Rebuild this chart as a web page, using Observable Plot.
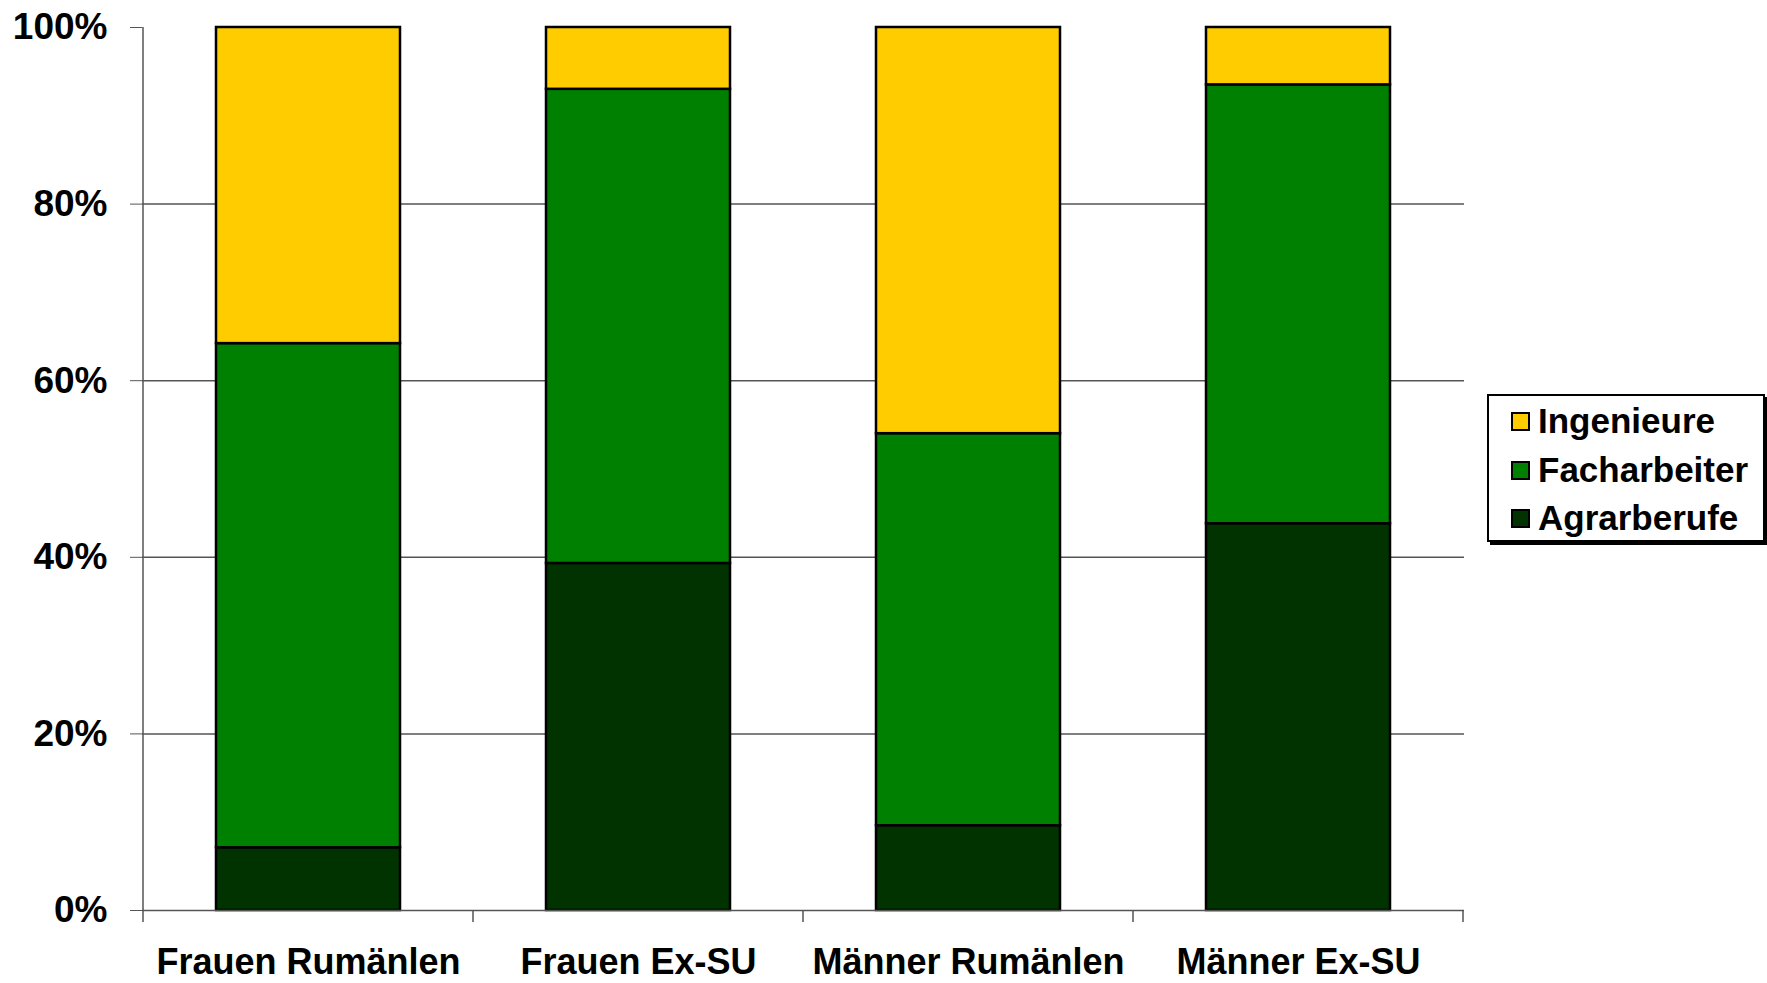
<!DOCTYPE html>
<html><head><meta charset="utf-8">
<script src="https://cdn.jsdelivr.net/npm/d3@7"></script>
<script src="https://cdn.jsdelivr.net/npm/@observablehq/plot@0.6"></script>
<style>
body{margin:0;background:#fff;font-family:"Liberation Sans",Arial,sans-serif;}
#wrap{position:relative;width:1767px;height:983px;overflow:hidden;}
.legend{position:absolute;left:1487px;top:394px;width:274px;height:144px;border:2px solid #000;box-shadow:3px 3px 0 #000;background:#fff;}
.item{position:absolute;left:22px;height:34px;font-weight:bold;font-size:35px;line-height:34px;display:flex;align-items:center;color:#000;white-space:nowrap;}
.sw{width:15px;height:15px;border:2px solid #000;margin-right:8px;}
</style></head><body><div id="wrap"></div>
<script>
const categories = ["Frauen Rumänlen", "Frauen Ex-SU", "Männer Rumänlen", "Männer Ex-SU"];
const series = ["Agrarberufe", "Facharbeiter", "Ingenieure"];
const agrarberufe = [7.1, 39.3, 9.6, 43.8];
const facharbeiter = [57.1, 53.7, 44.4, 49.7];
const ingenieure = [35.8, 7.0, 46.0, 6.5];
const seriesColors = ["#003300", "#008000", "#FFCC00"];
const yTicks = [0, 20, 40, 60, 80, 100];
const gridTicks = [20, 40, 60, 80];
const legendOrder = ["Ingenieure", "Facharbeiter", "Agrarberufe"];

const values = [agrarberufe, facharbeiter, ingenieure];
const data = [];
categories.forEach((c, i) => {
  series.forEach((s, j) => data.push({category: c, series: s, value: values[j][i]}));
});

const FONT = '"Liberation Sans", Arial, sans-serif';
const plot = Plot.plot({
  width: 1767, height: 983,
  marginLeft: 142, marginRight: 303, marginTop: 27, marginBottom: 73,
  style: {fontFamily: FONT, background: "#fff", color: "#000"},
  x: {domain: categories, paddingInner: 0.443, paddingOuter: 0.2215, label: null},
  y: {domain: [0, 100], label: null},
  color: {domain: series, range: seriesColors},
  marks: [
    Plot.gridY(gridTicks, {stroke: "#555", strokeOpacity: 1, strokeWidth: 1.5}),
    Plot.barY(data, {x: "category", y: "value", fill: "series", stroke: "#000", strokeWidth: 2.5}),
    Plot.ruleY([0], {stroke: "#555", strokeWidth: 1.5}),
    Plot.axisY(yTicks, {tickFormat: d => d + "%", tickSize: 12, tickPadding: 23, fontSize: 37, fontWeight: "bold", stroke: "#555", fill: "#000"}),
    Plot.axisX({tickSize: 0, tickPadding: 38, fontSize: 36, fontWeight: "bold", fill: "#000"})
  ]
});

// y-axis line and category-boundary ticks from the plot's own scales
const xs = plot.scale("x"), ys = plot.scale("y");
const svg = d3.select(plot);
const y0 = ys.apply(0), y100 = ys.apply(100);
const half = (xs.step - xs.bandwidth) / 2;
const x0 = xs.apply(categories[0]) - half;
svg.append("line").attr("x1", x0).attr("x2", x0).attr("y1", y100).attr("y2", y0)
  .attr("stroke", "#555").attr("stroke-width", 1.5);
const bounds = categories.map(c => xs.apply(c) - half).concat([xs.apply(categories[categories.length - 1]) + xs.bandwidth + half]);
bounds.forEach(b => svg.append("line").attr("x1", b).attr("x2", b).attr("y1", y0).attr("y2", y0 + 12)
  .attr("stroke", "#555").attr("stroke-width", 1.5));

const wrap = document.getElementById("wrap");
wrap.appendChild(plot);

const leg = document.createElement("div");
leg.className = "legend";
const colorOf = s => seriesColors[series.indexOf(s)];
const rowTops = [8, 57, 105];
legendOrder.forEach((s, i) => {
  const it = document.createElement("div");
  it.className = "item";
  it.style.top = rowTops[i] + "px";
  const sw = document.createElement("div");
  sw.className = "sw";
  sw.style.background = colorOf(s);
  it.appendChild(sw);
  it.appendChild(document.createTextNode(s));
  leg.appendChild(it);
});
wrap.appendChild(leg);
</script>
</body></html>
